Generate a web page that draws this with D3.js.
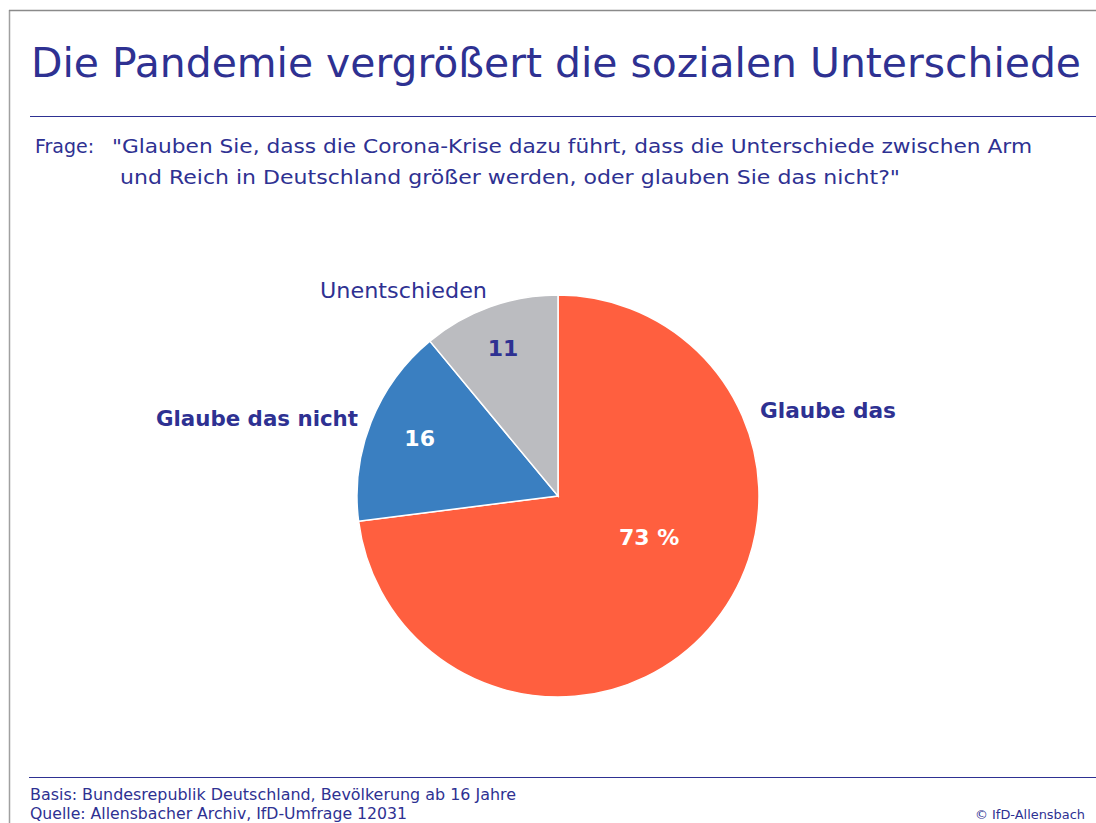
<!DOCTYPE html>
<html>
<head>
<meta charset="utf-8">
<script src="https://cdn.jsdelivr.net/npm/d3@7"></script>
<style>
  body { margin: 0; background: #fff; }
  svg text { font-family: "Century Gothic", "DejaVu Sans", sans-serif; }
</style>
</head>
<body>
<div id="chart"></div>
<script>
// answer categories and shares (percent)
const categories = ["Glaube das", "Glaube das nicht", "Unentschieden"];
const values = [73, 16, 11];
const valueLabels = ["73 %", "16", "11"];
const colors = ["#ff5f3f", "#3a7fc1", "#bbbcc0"];
const valueColors = ["#ffffff", "#ffffff", "#2e3192"];

const navy = "#2e3192";
const width = 1096, height = 823;

let svg = d3.select("#chart").append("svg")
    .attr("width", width)
    .attr("height", height);

// frame
svg.append("line").attr("x1", 9.5).attr("y1", 10).attr("x2", 9.5).attr("y2", height)
    .style("stroke", "#a0a0a0").style("stroke-width", 1.5);
svg.append("line").attr("x1", 9).attr("y1", 10.5).attr("x2", width).attr("y2", 10.5)
    .style("stroke", "#8a8a8a").style("stroke-width", 1.5);

// title + rule
svg.append("text")
    .attr("x", 31).attr("y", 77)
    .attr("textLength", 1050).attr("lengthAdjust", "spacingAndGlyphs")
    .style("font-size", "41px").style("fill", navy)
    .text("Die Pandemie vergrößert die sozialen Unterschiede");
svg.append("line").attr("x1", 30).attr("y1", 116.5).attr("x2", width).attr("y2", 116.5)
    .style("stroke", navy).style("stroke-width", 1.2);

// question
svg.append("text").attr("x", 35).attr("y", 153)
    .style("font-size", "19px").style("fill", navy).text("Frage:");
svg.append("text").attr("x", 112).attr("y", 153)
    .attr("textLength", 920).attr("lengthAdjust", "spacingAndGlyphs")
    .style("font-size", "19px").style("fill", navy)
    .text("\"Glauben Sie, dass die Corona-Krise dazu führt, dass die Unterschiede zwischen Arm");
svg.append("text").attr("x", 120).attr("y", 184)
    .attr("textLength", 780).attr("lengthAdjust", "spacingAndGlyphs")
    .style("font-size", "19px").style("fill", navy)
    .text("und Reich in Deutschland größer werden, oder glauben Sie das nicht?\"");

// pie
const cx = 558, cy = 496, radius = 201;
let pie = d3.pie().sort(null).value(function (d) { return d; });
let arc = d3.arc().innerRadius(0).outerRadius(radius);
let arcs = pie(values);

let g = svg.append("g").attr("transform", "translate(" + cx + "," + cy + ")");

g.selectAll("path")
    .data(arcs)
    .enter().append("path")
    .attr("d", arc)
    .style("fill", function (d, i) { return colors[i]; })
    .style("stroke", "#ffffff")
    .style("stroke-width", 1.5);

// value labels inside slices (radius per slice)
const labelRadius = [100, 150, 158];
const labelAngleShift = [-0.30, 0.02, -0.01];
g.selectAll("text.value")
    .data(arcs)
    .enter().append("text")
    .attr("class", "value")
    .attr("transform", function (d, i) {
        let a = (d.startAngle + d.endAngle) / 2 + labelAngleShift[i];
        let r = labelRadius[i];
        return "translate(" + (r * Math.sin(a)) + "," + (-r * Math.cos(a)) + ")";
    })
    .attr("text-anchor", "middle")
    .attr("dy", "0.35em")
    .style("font-size", "22px")
    .style("font-weight", "bold")
    .style("fill", function (d, i) { return valueColors[i]; })
    .text(function (d, i) { return valueLabels[i]; });

// category labels outside
const catPos = [[202, -78, "start", "bold", 136], [-200, -70, "end", "bold", 202], [-71, -198, "end", "normal", 167]];
g.selectAll("text.cat")
    .data(categories)
    .enter().append("text")
    .attr("class", "cat")
    .attr("x", function (d, i) { return catPos[i][0]; })
    .attr("y", function (d, i) { return catPos[i][1]; })
    .attr("text-anchor", function (d, i) { return catPos[i][2]; })
    .attr("textLength", function (d, i) { return catPos[i][4]; })
    .attr("lengthAdjust", "spacingAndGlyphs")
    .style("font-size", "21px")
    .style("font-weight", function (d, i) { return catPos[i][3]; })
    .style("fill", navy)
    .text(function (d) { return d; });

// footer
svg.append("line").attr("x1", 29).attr("y1", 777.5).attr("x2", width).attr("y2", 777.5)
    .style("stroke", navy).style("stroke-width", 1.2);
svg.append("text").attr("x", 30).attr("y", 800)
    .attr("textLength", 486).attr("lengthAdjust", "spacingAndGlyphs")
    .style("font-size", "15px").style("fill", navy)
    .text("Basis: Bundesrepublik Deutschland, Bevölkerung ab 16 Jahre");
svg.append("text").attr("x", 30).attr("y", 819)
    .attr("textLength", 377).attr("lengthAdjust", "spacingAndGlyphs")
    .style("font-size", "15px").style("fill", navy)
    .text("Quelle: Allensbacher Archiv, IfD-Umfrage 12031");
svg.append("text").attr("x", 1085).attr("y", 819)
    .attr("text-anchor", "end")
    .attr("textLength", 110).attr("lengthAdjust", "spacingAndGlyphs")
    .style("font-size", "12px").style("fill", navy)
    .text("© IfD-Allensbach");
</script>
</body>
</html>
